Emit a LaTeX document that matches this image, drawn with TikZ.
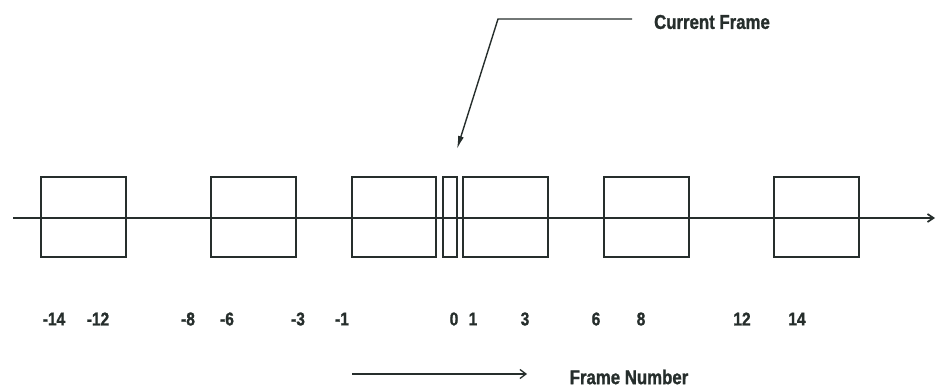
\documentclass[tikz,border=0pt]{standalone}
\usepackage{fontspec}
\setmainfont{Liberation Sans}[FakeStretch=0.84,FakeBold=1.2]
\usetikzlibrary{arrows.meta}
\definecolor{ink}{RGB}{38,46,44}
\begin{document}
\begin{tikzpicture}[x=1pt,y=-1pt,
  every node/.style={text=ink},
  frm/.style={draw=ink,line width=1.7pt,minimum height=80pt,inner sep=0pt,minimum width=85pt},
  num/.style={font=\fontsize{18.5}{19}\selectfont\bfseries,inner sep=0pt,anchor=center},
  lbl/.style={font=\fontsize{20}{22}\selectfont\bfseries,inner sep=0pt},
  ln/.style={draw=ink,line width=1.7pt}]
\useasboundingbox (0,0) rectangle (936,388);
% axis
\coordinate (axL) at (13,218);
\coordinate (axR) at (935,218);
\draw[ln,-{Straight Barb[length=6pt,width=8pt]}] (axL) -- (axR);
% frames
\node[frm] (b1) at (83.5,217) {};
\node[frm] (b2) at (253.5,217) {};
\node[frm,minimum width=84pt] (b3) at (394,217) {};
\node[frm,minimum width=14pt] (b0) at (450,217) {};
\node[frm] (b4) at (505.5,217) {};
\node[frm] (b5) at (646.5,217) {};
\node[frm] (b6) at (816.5,217) {};
% numbers
\foreach \x/\t [count=\i] in {54/-14,98/-12,188/-8,227/-6,298/-3,342/-1,454/0,473/1,525/3,596/6,641/8,742/12,797/14}
  \node[num] (n\i) at (\x,319) {\t};
% current frame pointer
\node[lbl] (cf) at (712,22) {Current Frame};
\coordinate (cfA) at (632,19);
\coordinate (cfB) at (498,19);
\coordinate (cfT) at (457,149);
\draw[ln,line width=1.4pt,-{Latex[length=13pt,width=6pt]}] (cfA) -- (cfB) -- (cfT);
% frame number arrow
\node[lbl] (fn) at (629,377) {Frame Number};
\coordinate (faL) at (352,374);
\coordinate (faR) at (527,374);
\draw[draw=ink,line width=1.3pt,-{Straight Barb[length=6pt,width=9pt]}] (faL) -- (faR);
\end{tikzpicture}
\end{document}
